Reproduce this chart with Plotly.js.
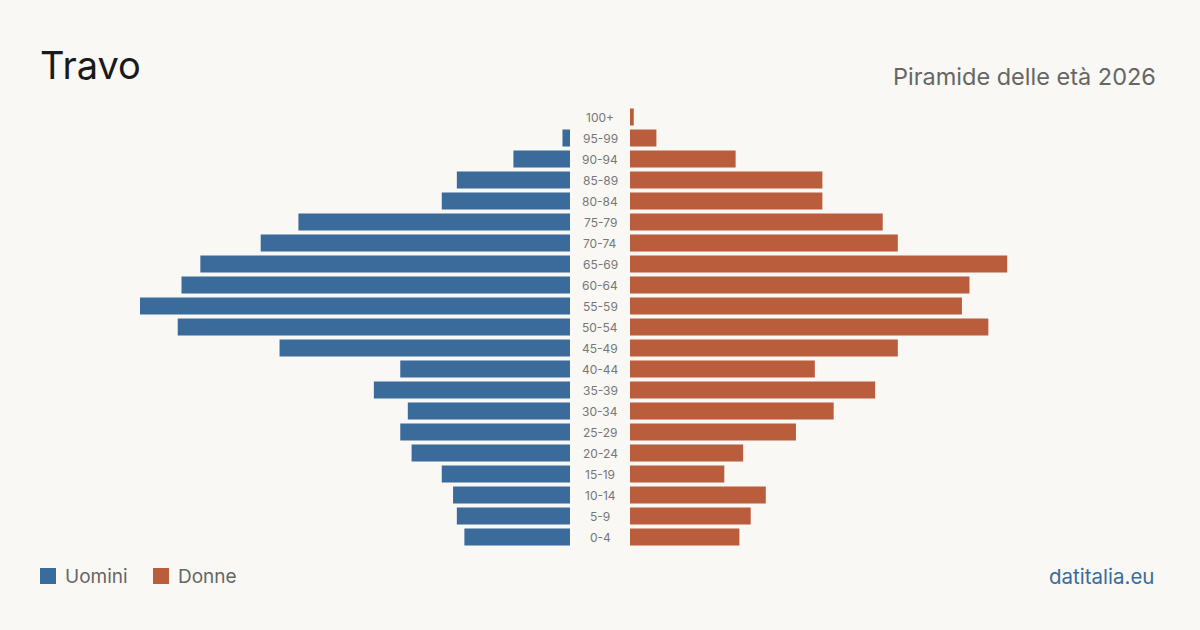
<!DOCTYPE html>
<html>
<head>
<meta charset="utf-8">
<script src="https://cdn.plot.ly/plotly-3.0.1.min.js"></script>
<style>
  html, body { margin: 0; padding: 0; background: #F9F8F4; }
  #chart { width: 1200px; height: 630px; }
</style>
</head>
<body>
<div id="chart"></div>
<script>
// Age groups, top to bottom as in the picture
const ageGroups = ["100+", "95-99", "90-94", "85-89", "80-84", "75-79", "70-74", "65-69", "60-64", "55-59", "50-54", "45-49", "40-44", "35-39", "30-34", "25-29", "20-24", "15-19", "10-14", "5-9", "0-4"];
const men   = [0, 2, 15, 30, 34, 72, 82, 98, 103, 114, 104, 77, 45, 52, 43, 45, 42, 34, 31, 30, 28];
const women = [1, 7, 28, 51, 51, 67, 71, 100, 90, 88, 95, 71, 49, 65, 54, 44, 30, 25, 36, 32, 29];
const seriesNames = ["Uomini", "Donne"];
const titleText = "Travo";
const subtitleText = "Piramide delle età 2026";
const sourceText = "datitalia.eu";

const BLUE = "#3A6B9B";
const ORANGE = "#BA5D3C";
const BG = "#F9F8F4";
const FONT = "Inter, 'Noto Sans', sans-serif";

const maxVal = Math.max(...men, ...women);
const W = 1200, H = 630;
const yTop = 106.5, yBottom = 547.5;

const traces = [
  {
    type: "bar", orientation: "h", name: seriesNames[0],
    x: men, y: ageGroups, xaxis: "x", yaxis: "y",
    marker: { color: BLUE }, hoverinfo: "x+y", showlegend: false
  },
  {
    type: "bar", orientation: "h", name: seriesNames[1],
    x: women, y: ageGroups, xaxis: "x2", yaxis: "y",
    marker: { color: ORANGE }, hoverinfo: "x+y", showlegend: false
  }
];

const annotations = ageGroups.map(g => ({
  xref: "paper", yref: "y", x: 0.5, y: g, text: g, showarrow: false,
  xanchor: "center", yanchor: "middle",
  font: { family: FONT, size: 12, color: "#777777" }
}));

annotations.push({
  xref: "paper", yref: "paper", x: 1158 / W, y: 1 - 76 / H,
  xanchor: "right", yanchor: "middle", showarrow: false,
  text: subtitleText, font: { family: FONT, size: 23.5, color: "#666666" }
});
annotations.push({
  xref: "paper", yref: "paper", x: 1156 / W, y: 1 - 576 / H,
  xanchor: "right", yanchor: "middle", showarrow: false,
  text: sourceText, font: { family: FONT, size: 20.5, color: BLUE }
});
// legend texts
annotations.push({
  xref: "paper", yref: "paper", x: 63 / W, y: 1 - 576 / H,
  xanchor: "left", yanchor: "middle", showarrow: false,
  text: seriesNames[0], font: { family: FONT, size: 19, color: "#666666" }
});
annotations.push({
  xref: "paper", yref: "paper", x: 176 / W, y: 1 - 576 / H,
  xanchor: "left", yanchor: "middle", showarrow: false,
  text: seriesNames[1], font: { family: FONT, size: 19, color: "#666666" }
});

const shapes = [
  { type: "rect", xref: "paper", yref: "paper", x0: 40 / W, x1: 56 / W, y0: 1 - 584 / H, y1: 1 - 568 / H, fillcolor: BLUE, line: { width: 0 } },
  { type: "rect", xref: "paper", yref: "paper", x0: 153 / W, x1: 169 / W, y0: 1 - 584 / H, y1: 1 - 568 / H, fillcolor: ORANGE, line: { width: 0 } }
];

const hiddenAxis = { showgrid: false, zeroline: false, showticklabels: false, showline: false, ticks: "", fixedrange: true };

const layout = {
  width: W, height: H,
  margin: { l: 0, r: 0, t: 0, b: 0, pad: 0 },
  paper_bgcolor: BG, plot_bgcolor: BG,
  font: { family: FONT },
  title: {
    text: titleText, x: 40 / W, xanchor: "left", xref: "paper",
    y: 1 - 66 / H, yanchor: "middle", yref: "container",
    font: { family: FONT, size: 38, color: "#1A1A1A" }
  },
  bargap: 4 / 21,
  xaxis: Object.assign({}, hiddenAxis, { domain: [140 / W, 570 / W], range: [maxVal, 0], anchor: "y" }),
  xaxis2: Object.assign({}, hiddenAxis, { domain: [630 / W, 1060 / W], range: [0, maxVal], anchor: "y" }),
  yaxis: Object.assign({}, hiddenAxis, {
    domain: [1 - yBottom / H, 1 - yTop / H],
    type: "category", categoryorder: "array", categoryarray: ageGroups.slice().reverse()
  }),
  annotations: annotations,
  shapes: shapes,
  showlegend: false
};

Plotly.newPlot("chart", traces, layout, { displayModeBar: false, staticPlot: true });
</script>
</body>
</html>
